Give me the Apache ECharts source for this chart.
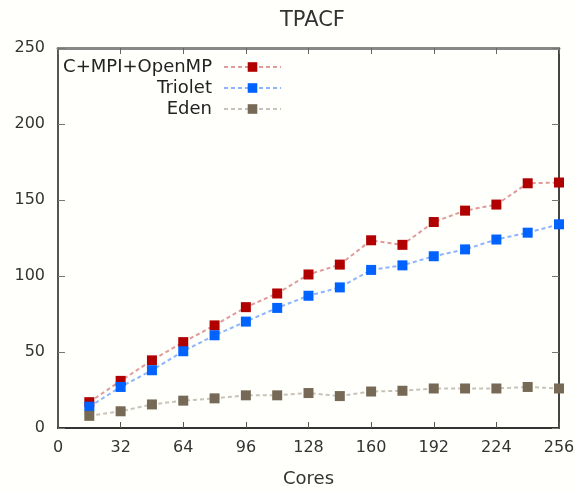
<!DOCTYPE html>
<html>
<head>
<meta charset="utf-8">
<script src="https://cdn.jsdelivr.net/npm/echarts@6/dist/echarts.min.js"></script>
<style>
  html, body { margin: 0; padding: 0; background: #fffffc; }
  #chart { width: 578px; height: 493px; }
</style>
</head>
<body>
<div id="chart"></div>
<script>
var cores = [16, 32, 48, 64, 80, 96, 112, 128, 144, 160, 176, 192, 208, 224, 240, 256];
var mpiOpenmp = [17, 31, 44.5, 56.5, 67.5, 79.5, 88.5, 101, 107.5, 123.5, 120.5, 135.5, 143, 147, 161, 161.5];
var triolet = [14, 27, 38, 50.5, 61, 70, 79, 87, 92.5, 104, 107, 113, 117.5, 124, 128.5, 134];
var eden = [8, 11, 15.5, 18, 19.5, 21.5, 21.5, 23, 21, 24, 24.5, 26, 26, 26, 27, 26];
var xTicks = [0, 32, 64, 96, 128, 160, 192, 224, 256];
var yTicks = [0, 50, 100, 150, 200, 250];

var font = 'DejaVu Sans';

var pairs = function(ys) {
    return cores.map(function(c, i) { return [c, ys[i]]; });
};

var makeSeries = function(name, ys, mark, line) {
    return {
        name: name,
        type: 'line',
        data: pairs(ys),
        symbol: 'rect',
        symbolSize: 10,
        itemStyle: { color: mark },
        lineStyle: { color: line, width: 2, type: [4, 3] },
        emphasis: { disabled: true },
        animation: false
    };
};

var makeLegend = function(name, top) {
    return {
        data: [name],
        right: 296,
        top: top,
        padding: 0,
        align: 'right',
        itemWidth: 57,
        itemHeight: 12,
        textStyle: { fontSize: 18, color: '#222', fontFamily: font, padding: [0, 7, 0, 0] }
    };
};

var option = {
    backgroundColor: '#fffffc',
    title: {
        text: 'TPACF',
        left: 275,
        top: 5,
        textStyle: { fontSize: 21, fontWeight: 'normal', color: '#333', fontFamily: font }
    },
    legend: [
        makeLegend('C+MPI+OpenMP', 58),
        makeLegend('Triolet', 79),
        makeLegend('Eden', 100)
    ],
    grid: { left: 58, right: 19, top: 48, bottom: 58 },
    xAxis: [{
        type: 'value',
        min: 0,
        max: 256,
        interval: 32,
        name: 'Cores',
        nameLocation: 'middle',
        nameGap: 42,
        nameTextStyle: { fontSize: 18, color: '#333', fontFamily: font },
        axisLine: { onZero: false, lineStyle: { color: '#333', width: 2 } },
        axisTick: { inside: true, length: 6, lineStyle: { color: '#555', width: 1 } },
        axisLabel: {
            fontSize: 16, color: '#333', margin: 12, fontFamily: font,
            formatter: function(v) { return xTicks.indexOf(v) >= 0 ? v : ''; }
        },
        splitLine: { show: false }
    }, {
        type: 'value',
        position: 'top',
        min: 0,
        max: 256,
        interval: 32,
        axisLine: { show: true, onZero: false, lineStyle: { color: '#888', width: 3 } },
        axisTick: { show: true, inside: true, length: 6, lineStyle: { color: '#666', width: 1 } },
        axisLabel: { show: false },
        splitLine: { show: false }
    }],
    yAxis: [{
        type: 'value',
        min: 0,
        max: 250,
        interval: 50,
        axisLine: { show: true, onZero: false, lineStyle: { color: '#555', width: 2 } },
        axisTick: { show: true, inside: true, length: 7, lineStyle: { color: '#777', width: 1 } },
        axisLabel: {
            fontSize: 16, color: '#333', margin: 13, fontFamily: font,
            formatter: function(v) { return yTicks.indexOf(v) >= 0 ? v : ''; }
        },
        splitLine: { show: false }
    }, {
        type: 'value',
        position: 'right',
        min: 0,
        max: 250,
        interval: 50,
        axisLine: { show: true, onZero: false, lineStyle: { color: '#444', width: 2 } },
        axisTick: { show: true, inside: true, length: 7, lineStyle: { color: '#777', width: 1 } },
        axisLabel: { show: false },
        splitLine: { show: false }
    }],
    series: [
        makeSeries('C+MPI+OpenMP', mpiOpenmp, '#b00000', '#e09a9a'),
        makeSeries('Triolet', triolet, '#0062ff', '#8fb4ff'),
        makeSeries('Eden', eden, '#766a56', '#c8c3b8'),
        // invisible series so the mirrored top/right axes get drawn
        {
            name: 'mirror',
            type: 'line',
            xAxisIndex: 1,
            yAxisIndex: 1,
            data: [[0, 0]],
            showSymbol: false,
            lineStyle: { opacity: 0 },
            silent: true,
            animation: false
        }
    ]
};

echarts.init(document.getElementById('chart')).setOption(option);
</script>
</body>
</html>
